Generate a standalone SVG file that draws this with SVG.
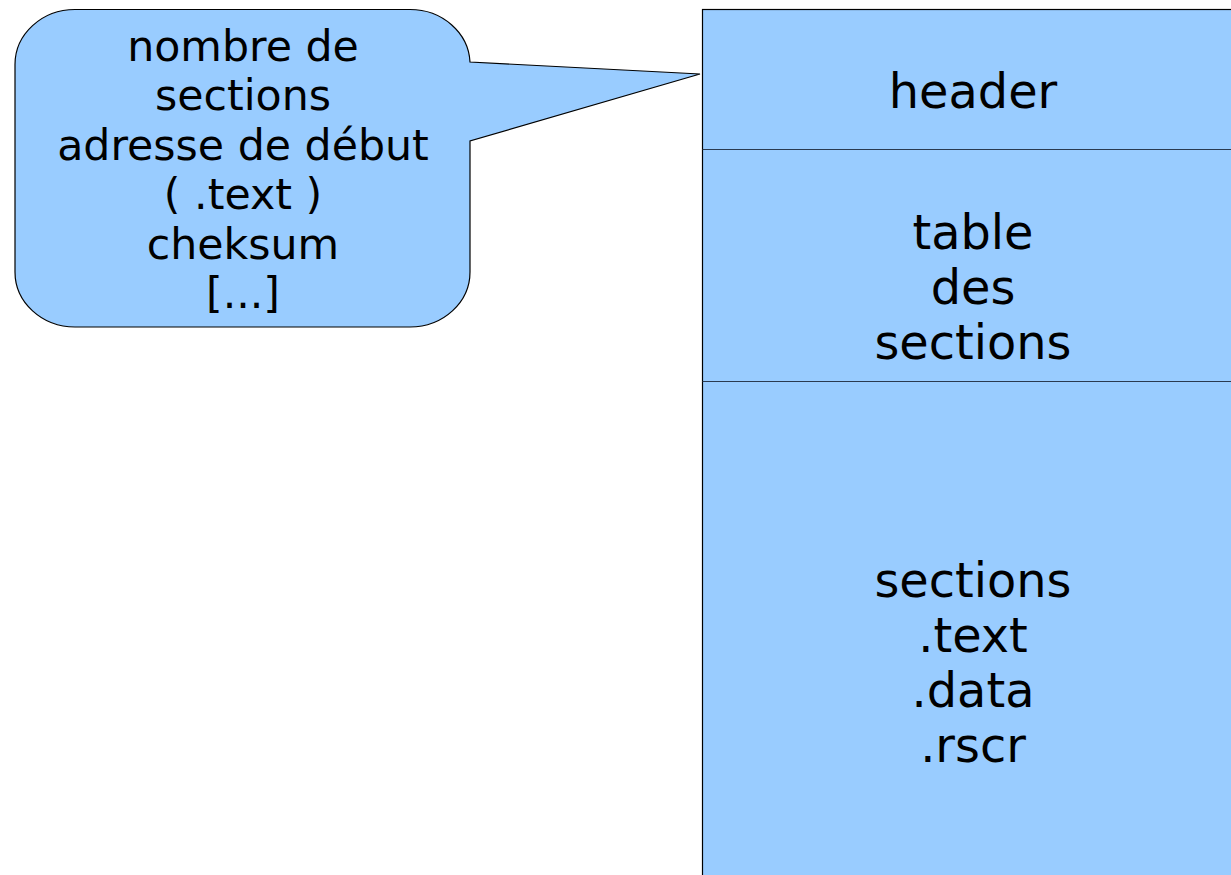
<svg xmlns="http://www.w3.org/2000/svg" width="1231" height="875" viewBox="0 0 1231 875">
<style>
.shape{fill:#99ccff;stroke:#000;stroke-width:1.2}
.div{stroke:#2a3a50;stroke-width:1.2;fill:none}
.t{font-family:"DejaVu Sans",Verdana,sans-serif;fill:#000;text-anchor:middle}
.s{font-size:42.7px}
.b{font-size:47.8px}
</style>
<rect width="1231" height="875" fill="#fff"/>
<g id="callout">
<path class="shape" d="M 75,9.5 H 410 A 60 55 0 0 1 470,62 L 700,74 L 470,141 V 272 A 60 55 0 0 1 410,327 H 75 A 60 55 0 0 1 15,272 V 64.5 A 60 55 0 0 1 75,9.5 Z"/>
<text class="t s" x="243" y="60.5">nombre de</text>
<text class="t s" x="243" y="110">sections</text>
<text class="t s" x="243" y="159.5">adresse de début</text>
<text class="t s" x="243" y="209">( .text )</text>
<text class="t s" x="243" y="258.5">cheksum</text>
<text class="t s" x="243" y="308">[...]</text>
</g>
<g id="file">
<rect class="shape" x="702.5" y="9.5" width="540" height="880"/>
</g>
<g id="header">
<text class="t b" x="973" y="108">header</text>
</g>
<g id="table">
<line class="div" x1="702.5" y1="149.5" x2="1231" y2="149.5"/>
<text class="t b" x="973" y="249">table</text>
<text class="t b" x="973" y="304">des</text>
<text class="t b" x="973" y="359">sections</text>
</g>
<g id="sections">
<line class="div" x1="702.5" y1="381.5" x2="1231" y2="381.5"/>
<text class="t b" x="973" y="597">sections</text>
<text class="t b" x="973" y="652">.text</text>
<text class="t b" x="973" y="707">.data</text>
<text class="t b" x="973" y="762">.rscr</text>
</g>
<g id="connectors"></g>
</svg>
